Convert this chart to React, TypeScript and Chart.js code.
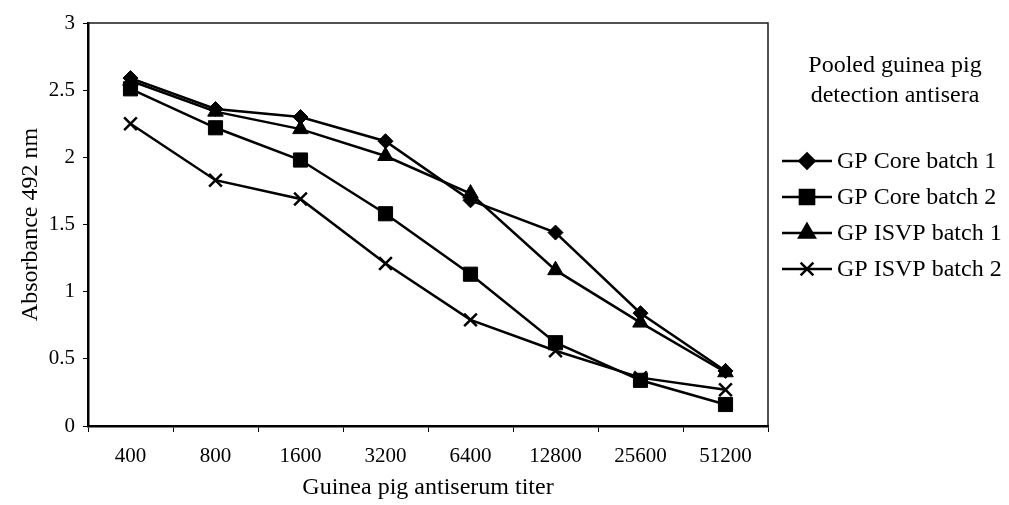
import React, { useEffect, useRef } from "react";
import { Chart, registerables } from "chart.js";
import { drawPoint } from "chart.js/helpers";

Chart.register(...registerables);

const categories = ["400", "800", "1600", "3200", "6400", "12800", "25600", "51200"];
const coreBatch1 = [2.59, 2.36, 2.3, 2.12, 1.68, 1.44, 0.84, 0.41];
const coreBatch2 = [2.51, 2.22, 1.98, 1.58, 1.13, 0.62, 0.34, 0.16];
const isvpBatch1 = [2.57, 2.34, 2.21, 2.01, 1.73, 1.16, 0.77, 0.4];
const isvpBatch2 = [2.25, 1.83, 1.69, 1.21, 0.79, 0.56, 0.36, 0.27];
const seriesNames = ["GP Core batch 1", "GP Core batch 2", "GP ISVP batch 1", "GP ISVP batch 2"];
const legendTitle = ["Pooled guinea pig", "detection antisera"];
const yTitle = "Absorbance 492 nm";
const xTitle = "Guinea pig antiserum titer";

const FONT = "'Liberation Serif', 'Times New Roman', serif";

const frameAndLegend = {
  id: "frameAndLegend",
  afterDraw(chart: any) {
    const ctx = chart.ctx;
    const a = chart.chartArea;
    ctx.save();
    ctx.strokeStyle = "#1a1a1a";
    ctx.lineWidth = 1.5;
    ctx.beginPath();
    ctx.moveTo(a.left, a.top);
    ctx.lineTo(a.right, a.top);
    ctx.lineTo(a.right, a.bottom);
    ctx.stroke();

    ctx.fillStyle = "#000";
    ctx.font = `24px ${FONT}`;
    ctx.textAlign = "center";
    ctx.textBaseline = "middle";
    legendTitle.forEach((t, i) => ctx.fillText(t, 895, 66 + i * 30));

    chart.data.datasets.forEach((ds: any, i: number) => {
      const y = 161 + i * 36;
      ctx.strokeStyle = "#000";
      ctx.lineWidth = 2.5;
      ctx.beginPath();
      ctx.moveTo(782, y);
      ctx.lineTo(832, y);
      ctx.stroke();
      ctx.fillStyle = "#000";
      drawPoint(ctx, {
        pointStyle: ds.pointStyle,
        radius: ds.pointRadius,
        rotation: 0,
        borderWidth: ds.pointBorderWidth,
      }, 807, y);
      ctx.fillStyle = "#000";
      ctx.font = `24px ${FONT}`;
      ctx.textAlign = "left";
      ctx.textBaseline = "middle";
      ctx.fillText(ds.label, 837, y + 1);
    });
    ctx.restore();
  },
};

export default function App() {
  const ref = useRef<HTMLCanvasElement>(null);
  useEffect(() => {
    document.body.style.margin = "0";
    const styles = [
      { data: coreBatch1, pointStyle: "rectRot", pointRadius: 7.5, pointBorderWidth: 1 },
      { data: coreBatch2, pointStyle: "rect", pointRadius: 10, pointBorderWidth: 1 },
      { data: isvpBatch1, pointStyle: "triangle", pointRadius: 9, pointBorderWidth: 1 },
      { data: isvpBatch2, pointStyle: "crossRot", pointRadius: 9, pointBorderWidth: 2.5 },
    ];
    const chart = new Chart(ref.current!, {
      type: "line",
      data: {
        labels: categories,
        datasets: styles.map((s, i) => ({
          label: seriesNames[i],
          data: s.data,
          borderColor: "#000",
          backgroundColor: "#000",
          borderWidth: 2.5,
          pointStyle: s.pointStyle as any,
          pointRadius: s.pointRadius,
          pointBorderWidth: s.pointBorderWidth,
          pointBackgroundColor: "#000",
          pointBorderColor: "#000",
          tension: 0,
          fill: false,
        })),
      },
      options: {
        responsive: false,
        animation: false,
        devicePixelRatio: 1,
        layout: { padding: { left: 0, top: 23, right: 241, bottom: 0 } },
        plugins: { legend: { display: false }, tooltip: { enabled: false } },
        scales: {
          x: {
            type: "category",
            offset: true,
            grid: { display: true, drawOnChartArea: false, drawTicks: true, tickLength: 6, color: "#000", lineWidth: 1, offset: true },
            border: { display: true, color: "#000", width: 2.5 },
            ticks: { color: "#000", font: { family: FONT, size: 21 }, padding: 12, maxRotation: 0, autoSkip: false },
            title: { display: true, text: xTitle, color: "#000", font: { family: FONT, size: 24 }, padding: { top: 0, bottom: 3 } },
            afterFit: (s: any) => { s.height = 79; },
          },
          y: {
            min: 0,
            max: 3,
            ticks: {
              stepSize: 0.5,
              color: "#000",
              font: { family: FONT, size: 21 },
              padding: 8,
              callback: (v: any) => String(Number(v)),
            },
            grid: { display: true, drawOnChartArea: false, drawTicks: true, tickLength: 5, color: "#000", lineWidth: 1 },
            border: { display: true, color: "#000", width: 2.5 },
            title: { display: true, text: yTitle, color: "#000", font: { family: FONT, size: 24 }, padding: { top: 16, bottom: 0 } },
            afterFit: (s: any) => { s.width = 88; },
          },
        },
      },
      plugins: [frameAndLegend],
    });
    return () => chart.destroy();
  }, []);
  return (
    <div style={{ position: "absolute", left: 0, top: 0, width: 1009, height: 505, background: "#fff" }}>
      <canvas ref={ref} width={1009} height={505} />
    </div>
  );
}
